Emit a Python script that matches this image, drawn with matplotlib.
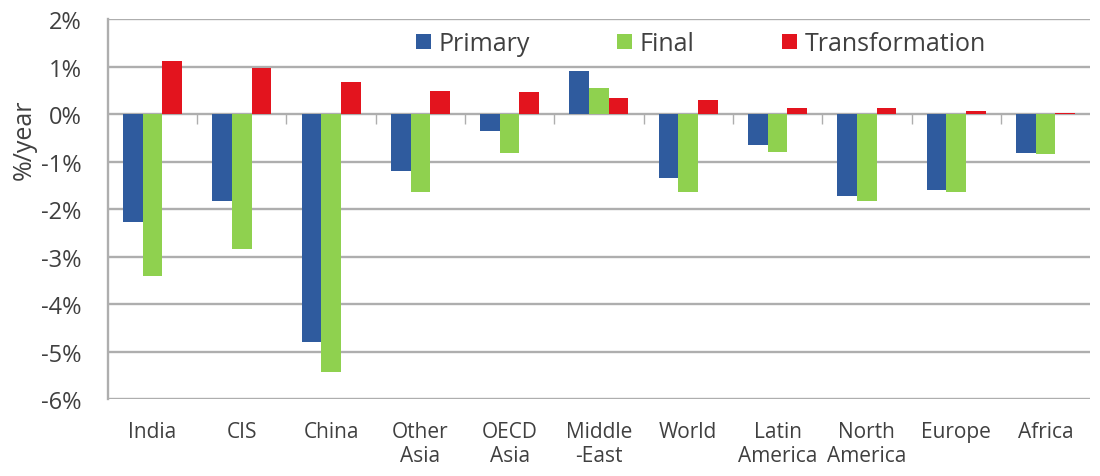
import numpy as np
import matplotlib
matplotlib.use('Agg')
import matplotlib.pyplot as plt
from matplotlib.ticker import FuncFormatter

plt.rcParams['font.family'] = ['Open Sans', 'DejaVu Sans']

# Data (%/year)
regions = ['India', 'CIS', 'China', 'Other\nAsia', 'OECD\nAsia', 'Middle\n-East',
           'World', 'Latin\nAmerica', 'North\nAmerica', 'Europe', 'Africa']
primary = [-2.27, -1.84, -4.79, -1.19, -0.35, 0.91, -1.35, -0.65, -1.73, -1.61, -0.82]
final = [-3.40, -2.84, -5.44, -1.64, -0.82, 0.54, -1.64, -0.79, -1.84, -1.65, -0.84]
transformation = [1.12, 0.97, 0.67, 0.49, 0.47, 0.34, 0.30, 0.13, 0.13, 0.06, 0.02]

series_names = ['Primary', 'Final', 'Transformation']
colors = ['#2F5B9E', '#8FD14F', '#E3141E']
text_color = '#404040'
grid_color = '#AEAEAE'

fig = plt.figure(figsize=(11, 4.77), dpi=100)
ax = fig.add_axes([0.098, 0.1614, 0.893, 0.7966])

x = np.arange(len(regions))
w = 0.22
for i, (vals, name, c) in enumerate(zip([primary, final, transformation], series_names, colors)):
    ax.bar(x + (i - 1) * w, vals, width=w, color=c, label=name, zorder=3)

ax.set_xlim(-0.5, len(regions) - 0.5)
ax.set_ylim(-6, 2)
ax.set_yticks(np.arange(-6, 3, 1))
ax.yaxis.set_major_formatter(FuncFormatter(lambda v, p: '%d%%' % v))
ax.grid(axis='y', color=grid_color, linewidth=1.7, zorder=0)

# zero axis line with category boundary ticks
ax.axhline(0, color=grid_color, linewidth=1.2, zorder=2)
ax.vlines(np.arange(0.5, len(regions) - 0.5, 1), -0.2, 0, color=grid_color, linewidth=1, zorder=2)

for s in ['top', 'right', 'bottom']:
    ax.spines[s].set_visible(False)
ax.spines['left'].set_color(grid_color)
ax.spines['left'].set_linewidth(1.7)

ax.set_xticks(x)
ax.set_xticklabels(regions, fontsize=15, color=text_color, linespacing=1.2, va='top')
ax.tick_params(axis='x', length=0, pad=16)
ax.tick_params(axis='y', length=0, pad=19, labelsize=17, labelcolor=text_color)
fig.text(0.022, 0.706, '%/year', rotation=90, fontsize=18, color=text_color,
         ha='center', va='center')

leg = ax.legend(loc='center', bbox_to_anchor=(0.637, 0.906), bbox_transform=fig.transFigure,
                ncol=3, frameon=False, fontsize=18, handlelength=0.6, handleheight=0.6,
                handletextpad=0.3, columnspacing=3.5, borderpad=0)
for t in leg.get_texts():
    t.set_color(text_color)

fig.savefig('out.png', dpi=100, facecolor='white')
